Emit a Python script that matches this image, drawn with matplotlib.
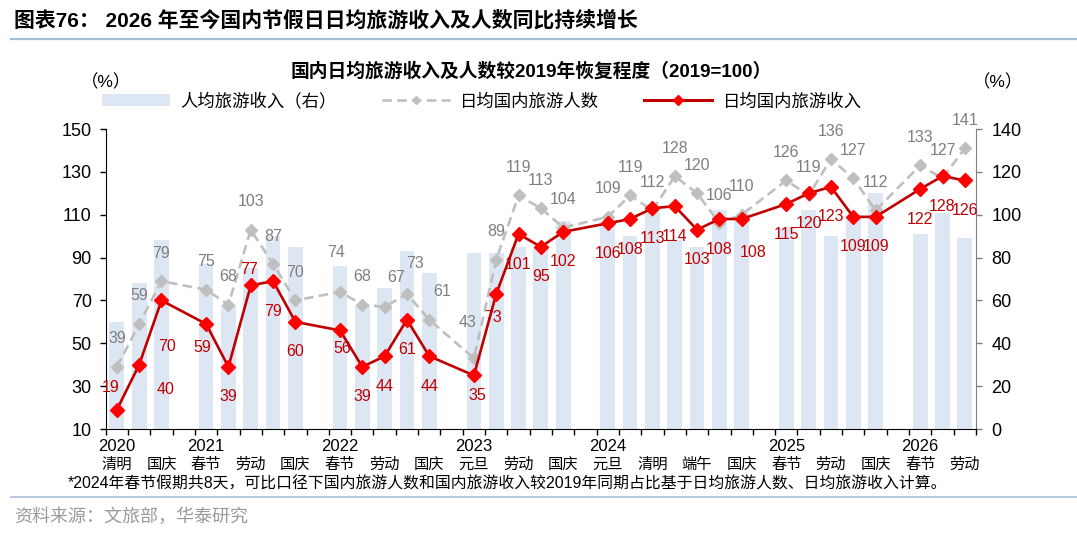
import numpy as np
import matplotlib
matplotlib.use('Agg')
import matplotlib.pyplot as plt
from matplotlib.patches import Patch
from matplotlib.lines import Line2D

plt.rcParams['font.family'] = ['Liberation Sans', 'Noto Sans CJK SC']

# data
years = ['2020', '2021', '2022', '2023', '2024', '2025', '2026']
year_counts = [3, 5, 5, 5, 7, 5, 3]
holidays = ['清明', '劳动', '国庆',
            '春节', '清明', '劳动', '端午', '国庆',
            '春节', '清明', '劳动', '端午', '国庆',
            '元旦', '春节', '劳动', '端午', '国庆',
            '元旦', '春节', '清明', '劳动', '端午', '中秋', '国庆',
            '春节', '清明', '劳动', '端午', '国庆',
            '春节', '清明', '劳动']
# 人均旅游收入（右轴）
spend_per_trip = [50, 68, 88,
                  77, 58, 75, 90, 85,
                  76, 58, 66, 83, 73,
                  82, 82, 85, 85, 97,
                  96, 90, 101, 88, 85, 102, 99,
                  94, 102, 90, 98, 110,
                  91, 101, 89]
# 日均国内旅游人数
daily_trips = [39, 59, 79,
               75, 68, 103, 87, 70,
               74, 68, 67, 73, 61,
               43, 89, 119, 113, 104,
               109, 119, 112, 128, 120, 106, 110,
               126, 119, 136, 127, 112,
               133, 127, 141]
# 日均国内旅游收入
daily_revenue = [19, 40, 70,
                 59, 39, 77, 79, 60,
                 56, 39, 44, 61, 44,
                 35, 73, 101, 95, 102,
                 106, 108, 113, 114, 103, 108, 108,
                 115, 120, 123, 109, 109,
                 122, 128, 126]

# label nudges (pixels, screen coords: +dy = down)
red_nudge = {0: (-6, -22), 1: (26, 25), 2: (6, 46), 3: (-4, 24), 5: (-2, -16),
             8: (2, 18), 13: (3, 20), 14: (-3, 23), 24: (11, 33)}
gray_nudge = {8: (-4, -39), 10: (11, -29), 11: (8, -31), 12: (13, -28), 13: (-6, -36)}

W, H = 1077, 533
fig = plt.figure(figsize=(W / 100, H / 100), dpi=100)

# one blank slot between years
group = np.repeat(np.arange(len(years)), year_counts)
x = np.arange(len(holidays)) + group
n_slots = x[-1] + 1

ax2 = fig.add_axes([105.7 / W, 1 - 429 / H, (976 - 105.7) / W, 300 / H])
ax = ax2.twinx()
ax.yaxis.tick_left()
ax.yaxis.set_label_position('left')
ax2.yaxis.tick_right()
ax.set_zorder(ax2.get_zorder() + 1)
ax.patch.set_visible(False)

ax2.bar(x, spend_per_trip, width=0.66, color='#dde7f3', zorder=1)
ax2.set_ylim(0, 140)
ax2.set_yticks(np.arange(0, 141, 20))

ax.plot(x, daily_trips, color='#bfbfbf', lw=1.9, dashes=(3.6, 2.0),
        marker='D', ms=5.8, mfc='#bfbfbf', mec='#bfbfbf', zorder=3)
ax.plot(x, daily_revenue, color='#c00000', lw=1.9,
        marker='D', ms=7.0, mfc='#ff0000', mec='#ff0000', zorder=4)
ax.set_ylim(10, 150)
ax.set_yticks(np.arange(10, 151, 20))
ax.set_xlim(-0.5, n_slots - 0.5)

for i, (xi, v) in enumerate(zip(x, daily_revenue)):
    dx, dy = red_nudge.get(i, (0, 30))
    ax.annotate(str(v), (xi, v), xytext=(dx, -dy), textcoords='offset pixels',
                ha='center', va='center', fontsize=11.5, color='#c00000', zorder=6)
for i, (xi, v) in enumerate(zip(x, daily_trips)):
    dx, dy = gray_nudge.get(i, (0, -28))
    ax.annotate(str(v), (xi, v), xytext=(dx, -dy), textcoords='offset pixels',
                ha='center', va='center', fontsize=11.5, color='#7f7f7f', zorder=6)

# axes styling
for a in (ax, ax2):
    a.spines['top'].set_visible(False)
    a.set_xticks([])
ax.spines['left'].set_color('#000000')
ax.spines['right'].set_visible(False)
ax.spines['bottom'].set_visible(False)
ax2.spines['left'].set_visible(False)
ax2.spines['right'].set_color('#808080')
ax2.spines['bottom'].set_color('#000000')
ax.tick_params(axis='y', direction='out', length=4, width=1, labelsize=13, pad=6, colors='black')
ax2.tick_params(axis='y', direction='out', length=4, width=1, labelsize=13, pad=7,
                colors='#808080', labelcolor='black')
ax2.set_xticks(np.arange(-0.5, n_slots, 1), minor=True)
ax2.tick_params(axis='x', which='minor', direction='out', length=4.5, width=1, color='black')

# category labels
xt = ax2.get_xaxis_transform()
starts = np.cumsum([0] + year_counts[:-1])
for yr, s in zip(years, starts):
    ax2.text(x[s], -0.057, yr, transform=xt, ha='center', va='center', fontsize=12)
for xi, h in zip(x, holidays):
    if xi % 2 == 0:
        ax2.text(xi, -0.12, h, transform=xt, ha='center', va='center', fontsize=11)

# legend
handles = [Patch(facecolor='#dde7f3', edgecolor='none'),
           Line2D([], [], color='#bfbfbf', lw=1.9, dashes=(3.6, 2.0), marker='D', ms=4.5,
                  mfc='#bfbfbf', mec='#bfbfbf'),
           Line2D([], [], color='#c00000', lw=2.2, marker='D', ms=5, mfc='#ff0000', mec='#ff0000')]
fig.legend(handles, ['人均旅游收入（右）', '日均国内旅游人数', '日均国内旅游收入'],
           loc='center', bbox_to_anchor=(482 / W, 1 - 101 / H), ncol=3, frameon=False,
           fontsize=12.5, handlelength=3.9, handletextpad=0.6, columnspacing=2.6)

# texts
fig.text(14 / W, 1 - 20 / H, '图表76： 2026 年至今国内节假日日均旅游收入及人数同比持续增长',
         fontsize=15, fontweight='bold', va='center', ha='left')
fig.add_artist(Line2D([11 / W, 1.0], [1 - 38.5 / H] * 2, color='#a9bcd5', lw=1.6))
fig.text(531 / W, 1 - 71 / H, '国内日均旅游收入及人数较2019年恢复程度（2019=100）',
         fontsize=13.5, fontweight='bold', ha='center', va='center')
fig.text(106 / W, 1 - 82 / H, '（%）', fontsize=12.5, ha='center', va='center')
fig.text(998 / W, 1 - 82 / H, '（%）', fontsize=12.5, ha='center', va='center')
fig.text(68 / W, 1 - 484 / H,
         '*2024年春节假期共8天，可比口径下国内旅游人数和国内旅游收入较2019年同期占比基于日均旅游人数、日均旅游收入计算。',
         fontsize=11.4, ha='left', va='center')
fig.add_artist(Line2D([11 / W, 1.0], [1 - 497 / H] * 2, color='#a9bcd5', lw=1.2))
fig.text(14 / W, 1 - 517 / H, '资料来源：文旅部，华泰研究', fontsize=13,
         color='#9a9a9a', ha='left', va='center')

fig.savefig('out.png', dpi=100)
